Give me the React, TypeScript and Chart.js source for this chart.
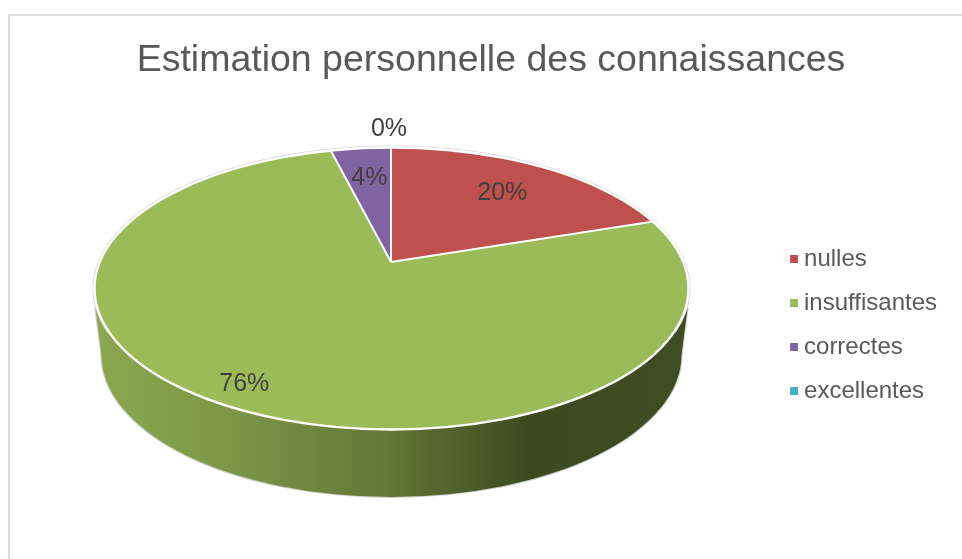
import React, { useEffect, useRef } from "react";
import { Chart, registerables } from "chart.js";

Chart.register(...registerables);

const categories = ["nulles", "insuffisantes", "correctes", "excellentes"];
const values = [20, 76, 4, 0];
const colors = ["#C0504D", "#9BBB59", "#8064A2", "#4BACC6"];
const titleText = "Estimation personnelle des connaissances";
// Distance of each value label from the slice apex, before the tilt is applied.
const labelRadii = [186, 290, 180, 282];
const labelNudges = [[2, 3], [-7, 1], [1, 1], [-2, 1]];

const FONT = '"Liberation Sans", Arial, sans-serif';
const APEX = { x: 391, y: 262 };
const TOP = { x: 391.5, y: 288.5, rx: 297, ry: 141 };
const BOTTOM = { x: 391.5, y: 355, rx: 290, ry: 142 };
const TILT = TOP.ry / TOP.rx;
const REACH = 420;

// Legend marker: an 8px square, offset inside its canvas so that it sits 6px from the text.
function legendMarker(color: string) {
  const c = document.createElement("canvas");
  c.width = 13;
  c.height = 8;
  const g = c.getContext("2d") as CanvasRenderingContext2D;
  g.fillStyle = color;
  g.fillRect(5, 0, 8, 8);
  return c;
}

const pie3d = {
  id: "pie3d",
  beforeDatasetsDraw(chart: any) {
    const { ctx } = chart;
    const arc = chart.getDatasetMeta(0).data[0];
    const { x, y, outerRadius } = arc.getProps(["x", "y", "outerRadius"], true);

    ctx.save();
    const wall = () => {
      ctx.beginPath();
      ctx.moveTo(TOP.x - TOP.rx + 1, TOP.y + 20);
      ctx.lineTo(BOTTOM.x - BOTTOM.rx, BOTTOM.y);
      ctx.ellipse(BOTTOM.x, BOTTOM.y, BOTTOM.rx, BOTTOM.ry, 0, Math.PI, 0, true);
      ctx.lineTo(TOP.x + TOP.rx - 1, TOP.y + 20);
      ctx.closePath();
    };
    const gradient = ctx.createLinearGradient(TOP.x - TOP.rx, 0, TOP.x + TOP.rx, 0);
    gradient.addColorStop(0, "#8AA84F");
    gradient.addColorStop(0.25, "#7A9546");
    gradient.addColorStop(0.5, "#627536");
    gradient.addColorStop(0.73, "#3D4A20");
    gradient.addColorStop(1, "#404C22");
    wall();
    ctx.strokeStyle = "#cfcfcf";
    ctx.lineWidth = 2.2;
    ctx.stroke();
    wall();
    ctx.fillStyle = gradient;
    ctx.fill();

    ctx.beginPath();
    ctx.ellipse(TOP.x, TOP.y, TOP.rx + 1.5, TOP.ry + 1.5, 0, Math.PI * 0.9, Math.PI * 2.1);
    ctx.strokeStyle = "#cfcfcf";
    ctx.lineWidth = 1;
    ctx.stroke();
    ctx.restore();

    ctx.save();
    ctx.beginPath();
    ctx.ellipse(TOP.x, TOP.y, TOP.rx, TOP.ry, 0, 0, Math.PI * 2);
    ctx.clip();
    const scale = REACH / outerRadius;
    ctx.translate(APEX.x, APEX.y);
    ctx.scale(scale, scale * TILT);
    ctx.translate(-x, -y);
  },
  afterDatasetsDraw(chart: any) {
    const { ctx } = chart;
    ctx.restore();
    const arcs = chart.getDatasetMeta(0).data;

    ctx.save();
    ctx.beginPath();
    ctx.ellipse(TOP.x, TOP.y, TOP.rx, TOP.ry, 0, 0, Math.PI * 2);
    ctx.clip();
    ctx.strokeStyle = "#ffffff";
    ctx.lineWidth = 2;
    ctx.lineJoin = "miter";
    arcs.forEach((arc: any, i: number) => {
      if (!values[i]) return;
      const { startAngle } = arc.getProps(["startAngle"], true);
      ctx.beginPath();
      ctx.moveTo(APEX.x, APEX.y);
      ctx.lineTo(
        APEX.x + Math.cos(startAngle) * REACH,
        APEX.y + Math.sin(startAngle) * REACH * TILT
      );
      ctx.stroke();
    });
    ctx.restore();

    ctx.save();
    ctx.beginPath();
    ctx.ellipse(TOP.x, TOP.y, TOP.rx, TOP.ry, 0, 0, Math.PI * 2);
    ctx.strokeStyle = "#ffffff";
    ctx.lineWidth = 2.4;
    ctx.stroke();

    ctx.fillStyle = "#404040";
    ctx.font = `25px ${FONT}`;
    ctx.textAlign = "center";
    ctx.textBaseline = "middle";
    arcs.forEach((arc: any, i: number) => {
      const { startAngle, endAngle } = arc.getProps(["startAngle", "endAngle"], true);
      const mid = (startAngle + endAngle) / 2;
      const total = values.reduce((a, b) => a + b, 0);
      ctx.fillText(
        `${Math.round((values[i] / total) * 100)}%`,
        APEX.x + Math.cos(mid) * labelRadii[i] + labelNudges[i][0],
        APEX.y + Math.sin(mid) * labelRadii[i] * TILT + labelNudges[i][1]
      );
    });
    ctx.restore();
  },
};

export default function App() {
  const ref = useRef<HTMLCanvasElement>(null);
  useEffect(() => {
    const chart = new Chart(ref.current as HTMLCanvasElement, {
      type: "pie",
      data: {
        labels: categories,
        datasets: [{ data: values, backgroundColor: colors, borderWidth: 0, hoverOffset: 0 }],
      },
      options: {
        responsive: false,
        animation: false,
        devicePixelRatio: 1,
        layout: { padding: { left: 35, right: 15, top: 38, bottom: 0 } },
        plugins: {
          tooltip: { enabled: false },
          title: {
            display: true,
            text: titleText,
            color: "#595959",
            font: { family: FONT, size: 37.5, weight: "normal", lineHeight: 1.2 },
            padding: { top: 0, bottom: 8 },
          },
          legend: {
            display: true,
            position: "right",
            fullSize: false,
            labels: {
              color: "#595959",
              font: { family: FONT, size: 24 },
              usePointStyle: true,
              boxWidth: 1,
              boxHeight: 8,
              padding: 20,
              generateLabels: (chart: any) =>
                (Chart as any).overrides.pie.plugins.legend.labels
                  .generateLabels(chart)
                  .map((item: any, i: number) => ({ ...item, pointStyle: legendMarker(colors[i]) })),
            },
          },
        },
      },
      plugins: [pie3d],
    } as any);
    return () => chart.destroy();
  }, []);
  return (
    <div style={{ position: "absolute", left: 0, top: 0, width: 962, height: 559, background: "#fff", overflow: "hidden" }}>
      <div
        style={{
          position: "absolute",
          left: 8,
          top: 14,
          width: 954,
          height: 545,
          borderLeft: "2px solid #dedede",
          borderTop: "2px solid #dedede",
          boxSizing: "border-box",
        }}
      />
      <canvas ref={ref} width={962} height={559} style={{ position: "absolute", left: 0, top: 0 }} />
    </div>
  );
}
